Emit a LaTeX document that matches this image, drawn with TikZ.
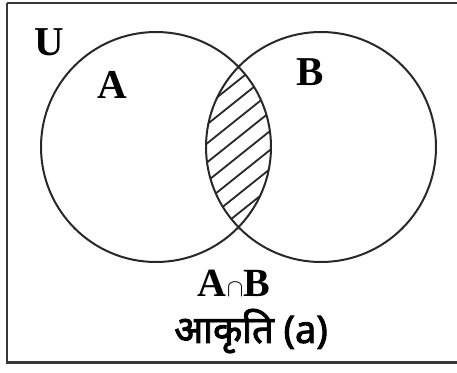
\documentclass[tikz,border=0pt]{standalone}
\usepackage{fontspec}
\setmainfont{Liberation Serif}
\newfontfamily\devfont[Script=Devanagari, FakeBold=2.4]{Noto Sans}
\usepackage{xcolor}
\definecolor{inkgray}{RGB}{40,40,40}
\definecolor{framegray}{RGB}{55,55,55}
\tikzset{
  setcircle/.style={draw=inkgray, line width=2pt},
  frameline/.style={draw=framegray, line width=2.4pt},
  hatchline/.style={draw=inkgray, line width=1.8pt},
  setlabel/.style={font=\fontsize{41}{44}\selectfont\bfseries, inner sep=0pt},
  caplabel/.style={font=\fontsize{40}{42}\selectfont\bfseries, inner sep=0pt},
  devlabel/.style={font=\devfont\fontsize{38}{40}\selectfont, inner sep=0pt},
}
\begin{document}
\begin{tikzpicture}[x=1pt, y=-1pt]
\useasboundingbox (0,0) rectangle (457,372);
\fill[white] (0,0) rectangle (457,372);
\draw[frameline] (7,3) -- (470,3) (7,3) -- (7,362.5) -- (470,362.5);
\coordinate (cA) at (156,147);
\coordinate (cB) at (321,147);
% hatched intersection
\begin{scope}
  \clip (cA) circle (115);
  \clip (cB) circle (115);
  \foreach \k in {0,...,12}
    \draw[hatchline] (190,{62+19*\k}) -- (290,{62+19*\k-80});
\end{scope}
\draw[setcircle] (cA) circle (115);
\draw[setcircle] (cB) circle (115);
\node[setlabel] (lblU) at (49,42) {U};
\node[setlabel] (lblA) at (112,85) {A};
\node[setlabel] (lblB) at (310,72) {B};
\node[caplabel] (lblAB) at (234,283) {A$\cap$B};
\node[devlabel] (lblfig) at (251,331) {आकृति (a)};
\end{tikzpicture}
\end{document}
